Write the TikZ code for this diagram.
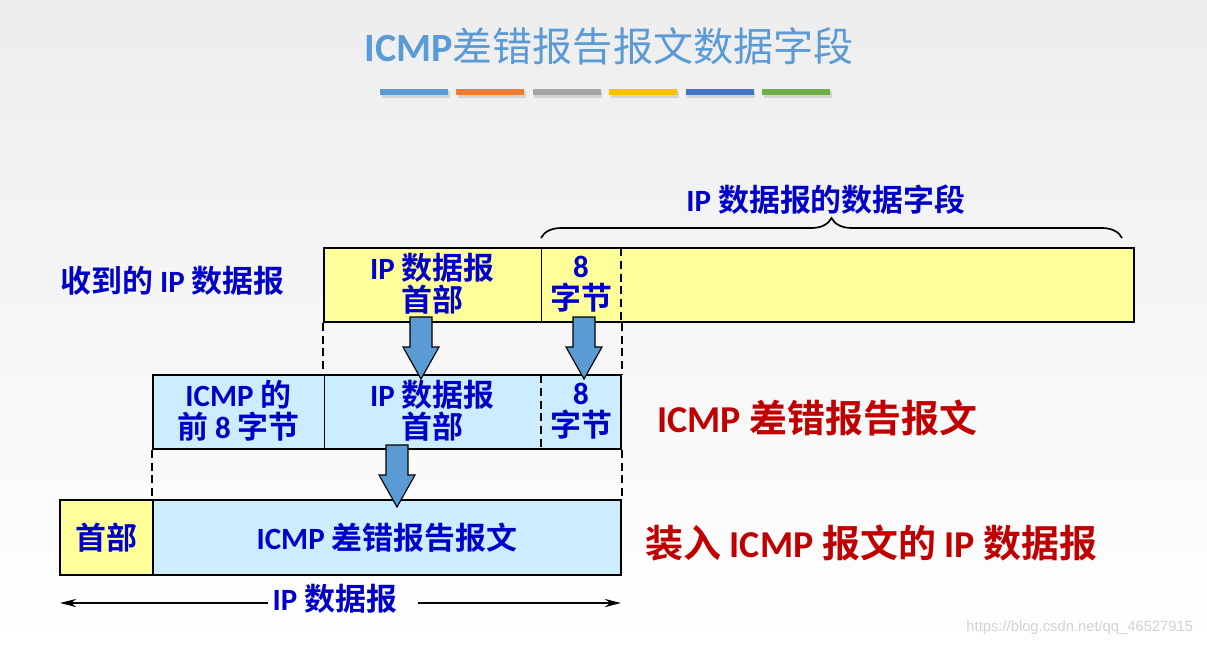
\documentclass[tikz,border=0pt]{standalone}
\usepackage{fontspec}
\setmainfont{Noto Sans CJK SC}[BoldFont={Noto Sans CJK SC Bold}]
\newfontfamily\latinfont{Carlito}
\newfontfamily\webfont{Liberation Sans}
\newcommand\en[1]{{\latinfont #1}}
\usetikzlibrary{positioning,shadows,shapes,arrows.meta}
\usetikzlibrary{decorations.pathreplacing}
\definecolor{titleblue}{HTML}{5B9BD5}
\definecolor{textblue}{HTML}{0000C8}
\definecolor{darkred}{HTML}{C00000}
\definecolor{lightyellow}{HTML}{FFFF99}
\definecolor{lightblue}{HTML}{CCECFF}
\definecolor{barorange}{HTML}{ED7D31}
\definecolor{bargray}{HTML}{A5A5A5}
\definecolor{baryellow}{HTML}{FFC000}
\definecolor{barblue}{HTML}{4472C4}
\definecolor{bargreen}{HTML}{70AD47}
\tikzset {
    style yellow/.style={
        fill=lightyellow,
        draw=black,
        line width=1.2pt,
        rectangle, % one field of a datagram
        minimum height=1.85cm,
        inner sep=0pt,
    },
    style blue/.style={
        fill=lightblue,
        draw=black,
        line width=1.2pt,
        rectangle, % one field of a datagram
        minimum height=1.85cm,
        inner sep=0pt,
    },
    style text/.style={
        text=textblue,
        font=\bfseries\fontsize{22}{23}\selectfont,
        align=center,
        inner sep=0pt,
    },
    style red/.style={
        text=darkred,
        font=\bfseries\fontsize{27}{30}\selectfont,
        inner sep=0pt,
    },
    style arrow/.style={
        fill=titleblue,
        draw=black,
        line width=0.8pt,
        line join=miter,
    },
    style bar/.style={
        rectangle,
        minimum width=1.7cm,
        minimum height=0.16cm,
        inner sep=0pt,
        drop shadow={opacity=0.25, shadow xshift=0.04cm, shadow yshift=-0.06cm},
    },
    style guide/.style={dash pattern=on 0.2cm off 0.12cm, line width=1.1pt},
    style len/.style={line width=2pt, -{Stealth[length=0.4cm, width=0.2cm]}},
}
% block arrow pointing down from a named top point
\newcommand\copyarrow[1]{
    \draw[style arrow] (#1) ++(-11,0) -- ++(0,30) -- ++(-7,0) -- ++(18,32)
        -- ++(18,-32) -- ++(-7,0) -- ++(0,-30) -- cycle;
}
\begin{document}
\begin{tikzpicture}[x=0.025cm, y=-0.025cm]
        \fill[top color=gray!14, bottom color=white] (0,0) rectangle (1207,646);
        \useasboundingbox (0,0) rectangle (1207,646);

        \node[text=titleblue, font=\fontsize{28.5}{30}\selectfont] (title) at (609,46) {\en{\bfseries ICMP}差错报告报文数据字段};
        \foreach \c [count=\i] in {titleblue,barorange,bargray,baryellow,barblue,bargreen}
            \node[style bar, fill=\c] (bar\i) at ({414+76.4*(\i-1)},92) {};

        \node[style yellow, minimum width=20.25cm] (received) at (729,285) {};
        \node[style text] (hdr1) at (432.5,284) {\en{IP} 数据报\\首部};
        \node[style text] (byte1) at (581,284) {\en{8}\\字节};
        \draw[line width=0.6pt] (541,248) -- (541,322);
        \draw[style guide] (621,248) -- (621,322);
        \node[style text, anchor=west] (recvlabel) at (60,281) {收到的 \en{IP} 数据报};

        \coordinate (braceL) at (541,238);
        \coordinate (braceR) at (1122,238);
        \draw[decorate, decoration={brace, amplitude=0.5cm}, line width=1.2pt] (braceL) -- (braceR);
        \node[style text] (fieldlabel) at (826,200) {\en{IP} 数据报的数据字段};

        \node[style blue, minimum width=11.7cm] (icmp) at (387,412) {};
        \draw[line width=0.6pt] (324,375) -- (324,449);
        \draw[style guide] (541,375) -- (541,449);
        \node[style text] (first8) at (238.5,411) {\en{ICMP} 的\\前 \en{8} 字节};
        \node[style text] (hdr2) at (432.5,411) {\en{IP} 数据报\\首部};
        \node[style text] (byte2) at (581,411) {\en{8}\\字节};
        \node[style red, anchor=west] (icmplabel) at (657,418) {\en{ICMP} 差错报告报文};

        \node[style yellow, style text, minimum width=2.325cm, minimum height=1.875cm] (ipheader) at (106.5,537.5) {首部};
        \node[style blue, style text, minimum width=11.7cm, minimum height=1.875cm] (icmpmsg) at (387,537.5) {\en{ICMP} 差错报告报文};
        \node[style red, anchor=west] (iplabel) at (645,543) {装入 \en{ICMP} 报文的 \en{IP} 数据报};

        \draw[style guide] (received.south west) -- (received.south west |- icmp.north);
        \draw[style guide] (icmp.north east |- received.south) -- (icmp.north east);
        \draw[style guide] (icmp.south west) -- (icmpmsg.north west);
        \draw[style guide] (icmp.south east) -- (icmpmsg.north east);

        \coordinate (down1) at (421,317);
        \coordinate (down2) at (584,317);
        \coordinate (down3) at (397,445);
        \copyarrow{down1}
        \copyarrow{down2}
        \copyarrow{down3}

        \node[style text] (iplen) at (335,599) {\en{IP} 数据报};
        \coordinate (lenL) at (60,603);
        \coordinate (lenR) at (621,603);
        \draw[style len] ([xshift=-0.1cm]iplen.west |- lenL) -- (lenL);
        \draw[style len] ([xshift=0.5cm]iplen.east |- lenR) -- (lenR);

        \node[text=gray!35, font=\webfont\fontsize{10.5}{12}\selectfont, anchor=east] (watermark) at (1198,628) {https://blog.csdn.net/qq\_46527915};
    \end{tikzpicture}
\end{document}
